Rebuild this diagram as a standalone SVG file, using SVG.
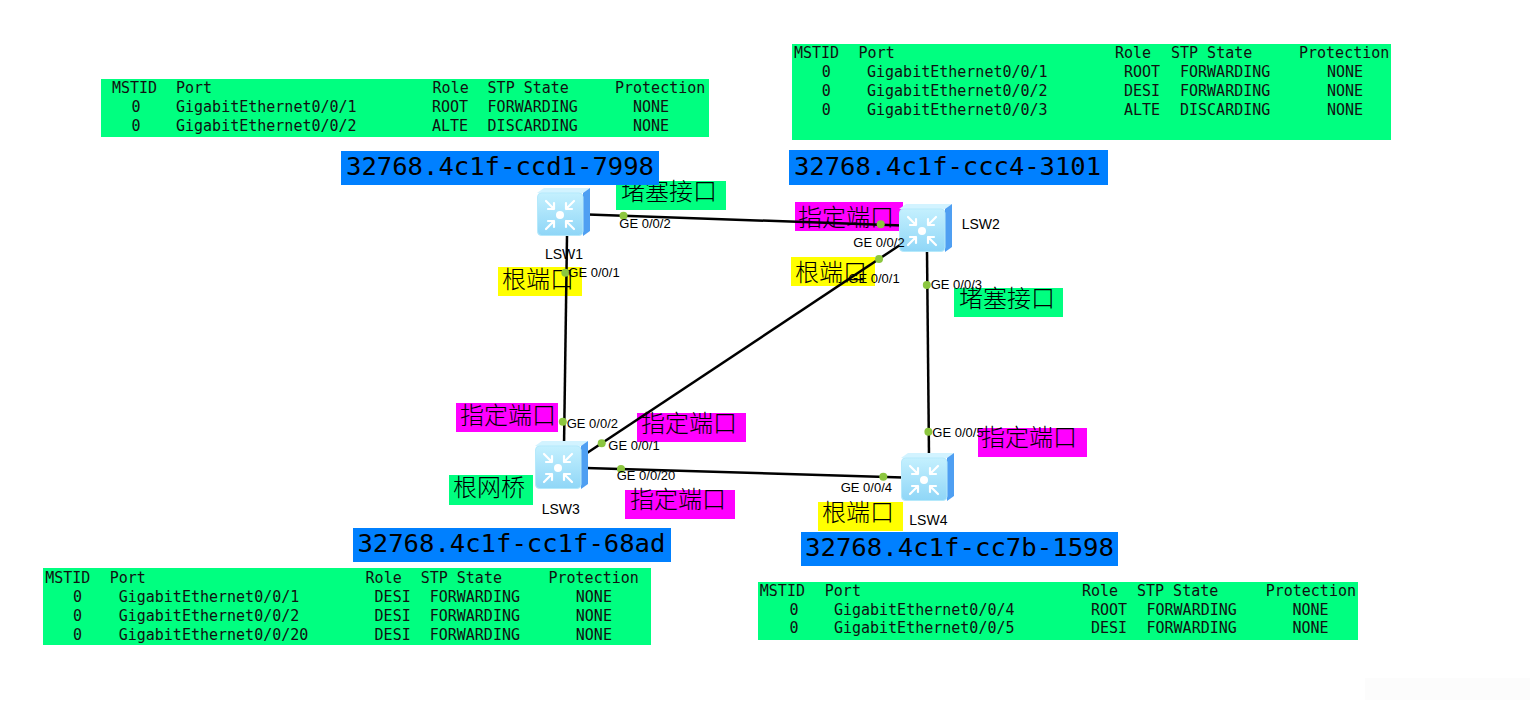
<svg xmlns="http://www.w3.org/2000/svg" xmlns:xlink="http://www.w3.org/1999/xlink" width="1540" height="707" viewBox="0 0 1540 707">
<style>
.tbl{fill:#00ff80}
.bid{fill:#0080ff}
.mono{font-family:"DejaVu Sans Mono","Liberation Mono",monospace;font-size:15px;fill:#111}
.bidt{font-family:"DejaVu Sans Mono","Liberation Mono",monospace;font-size:25.5px;fill:#000}
.ge{font-family:"Liberation Sans",Arial,sans-serif;font-size:13px;fill:#000}
.nm{font-family:"Liberation Sans",Arial,sans-serif;font-size:14px;fill:#000}
.cn{font-family:"Noto Sans CJK SC","Noto Sans CJK JP",sans-serif;font-size:24px;fill:#000;font-weight:300}
.blk{fill:#00ff80}.mag{fill:#ff00ff}.yel{fill:#ffff00}
.link{stroke:#000;stroke-width:2.5;fill:none}
.dot{fill:#8cc63f}
</style>
<defs>
<linearGradient id="fg" x1="0" y1="0" x2="0" y2="1">
<stop offset="0" stop-color="#c4f0fe"/>
<stop offset="1" stop-color="#8fd6f7"/>
</linearGradient>
<symbol id="sw" viewBox="0 0 53 48" width="53" height="48">
<polygon points="0,5 7,0 53,0 46,5" fill="#d2f3ff"/>
<polygon points="46,5 53,0 53,43 46,48" fill="#4f9ff2"/>
<rect x="0.5" y="5" width="45.5" height="42.5" rx="4" fill="url(#fg)" stroke="#b5e9fb" stroke-width="1"/>
<g stroke="#ffffff" stroke-width="2.2" fill="none" stroke-linecap="round">
<path d="M9,13 L17,21 M17,21 L11,21 M17,21 L17,15"/>
<path d="M37,13 L29,21 M29,21 L35,21 M29,21 L29,15"/>
<path d="M9,41 L17,33 M17,33 L11,33 M17,33 L17,39"/>
<path d="M37,41 L29,33 M29,33 L35,33 M29,33 L29,39"/>
</g>
<circle cx="23" cy="27" r="4" fill="#ffffff"/>
</symbol>
</defs>
<rect width="1540" height="707" fill="#ffffff"/>
<rect x="1365" y="678" width="165" height="22" fill="#fcfcfc"/>

<g id="port-labels">
<rect class="blk" x="616" y="181" width="110" height="29"/>
<text class="cn" x="621" y="200">堵塞接口</text>
<rect class="yel" x="498" y="267" width="84" height="29"/>
<text class="cn" x="502" y="288">根端口</text>
<rect class="mag" x="795" y="202" width="108" height="29"/>
<text class="cn" x="798" y="226">指定端口</text>
<rect class="yel" x="791" y="257" width="84" height="29"/>
<text class="cn" x="795" y="281">根端口</text>
<rect class="blk" x="954" y="288" width="109" height="29"/>
<text class="cn" x="959" y="307">堵塞接口</text>
<rect class="mag" x="456" y="403" width="102" height="29"/>
<text class="cn" x="460" y="424">指定端口</text>
<rect class="mag" x="637" y="413" width="109" height="29"/>
<text class="cn" x="641" y="432">指定端口</text>
<rect class="blk" x="449" y="475" width="84" height="30"/>
<text class="cn" x="453" y="496">根网桥</text>
<rect class="mag" x="625" y="490" width="110" height="29"/>
<text class="cn" x="630" y="508">指定端口</text>
<rect class="mag" x="978" y="428" width="109" height="29"/>
<text class="cn" x="981" y="446">指定端口</text>
<rect class="yel" x="818" y="502" width="85" height="29"/>
<text class="cn" x="822" y="521">根端口</text>
</g>

<g id="connectors">
<line class="link" x1="588" y1="214.5" x2="902" y2="225.5"/>
<line class="link" x1="567" y1="236" x2="564" y2="446"/>
<line class="link" x1="900" y1="245" x2="587" y2="453"/>
<line class="link" x1="927" y1="251" x2="929" y2="456"/>
<line class="link" x1="586" y1="468" x2="903" y2="477.5"/>
<circle class="dot" cx="623.5" cy="215.7" r="4"/>
<circle class="dot" cx="880.7" cy="224.3" r="4"/>
<circle class="dot" cx="565.3" cy="272.7" r="4"/>
<circle class="dot" cx="879" cy="259" r="4"/>
<circle class="dot" cx="926.8" cy="285" r="4"/>
<circle class="dot" cx="562.8" cy="421.7" r="4"/>
<circle class="dot" cx="601.7" cy="443.3" r="4"/>
<circle class="dot" cx="621" cy="469" r="4"/>
<circle class="dot" cx="928.4" cy="431.7" r="4"/>
<circle class="dot" cx="883.3" cy="476.7" r="4"/>
</g>

<g id="LSW1">
<use xlink:href="#sw" href="#sw" x="537" y="188"/>
<text class="nm" x="545" y="258.5">LSW1</text>
</g>
<g id="LSW2">
<use xlink:href="#sw" href="#sw" x="899" y="204"/>
<text class="nm" x="961.7" y="229.3">LSW2</text>
</g>
<g id="LSW3">
<use xlink:href="#sw" href="#sw" x="535" y="441"/>
<text class="nm" x="541.7" y="514.3">LSW3</text>
</g>
<g id="LSW4">
<use xlink:href="#sw" href="#sw" x="901" y="453"/>
<text class="nm" x="909.3" y="525">LSW4</text>
</g>

<g id="port-names">
<text class="ge" x="619.3" y="228.3">GE 0/0/2</text>
<text class="ge" x="568.3" y="276.7">GE 0/0/1</text>
<text class="ge" x="853.3" y="246.7">GE 0/0/2</text>
<text class="ge" x="848.3" y="282.7">GE 0/0/1</text>
<text class="ge" x="930.7" y="289.3">GE 0/0/3</text>
<text class="ge" x="566.7" y="427.7">GE 0/0/2</text>
<text class="ge" x="608.3" y="450">GE 0/0/1</text>
<text class="ge" x="616.7" y="480">GE 0/0/20</text>
<text class="ge" x="932.3" y="436.7">GE 0/0/5</text>
<text class="ge" x="840.7" y="491.7">GE 0/0/4</text>
</g>

<g id="bridge-ids">
<rect class="bid" x="341" y="151" width="318" height="34"/>
<text class="bidt" x="346" y="175" textLength="308" lengthAdjust="spacingAndGlyphs">32768.4c1f-ccd1-7998</text>
<rect class="bid" x="789" y="150" width="319" height="35"/>
<text class="bidt" x="794" y="175" textLength="307" lengthAdjust="spacingAndGlyphs">32768.4c1f-ccc4-3101</text>
<rect class="bid" x="353" y="528" width="318" height="34"/>
<text class="bidt" x="357.4" y="552" textLength="308" lengthAdjust="spacingAndGlyphs">32768.4c1f-cc1f-68ad</text>
<rect class="bid" x="801" y="532" width="317" height="34"/>
<text class="bidt" x="805" y="556" textLength="309" lengthAdjust="spacingAndGlyphs">32768.4c1f-cc7b-1598</text>
</g>

<g id="table-LSW1">
<rect class="tbl" x="101" y="79" width="608" height="58"/>
<g class="mono">
<text x="112" y="93">MSTID</text><text x="176" y="93">Port</text><text x="432.6" y="93">Role</text><text x="487.6" y="93">STP State</text><text x="615" y="93">Protection</text>
<text x="131.4" y="112">0</text><text x="176" y="112">GigabitEthernet0/0/1</text><text x="432" y="112">ROOT</text><text x="487.6" y="112">FORWARDING</text><text x="633" y="112">NONE</text>
<text x="131.4" y="131">0</text><text x="176" y="131">GigabitEthernet0/0/2</text><text x="432" y="131">ALTE</text><text x="487.6" y="131">DISCARDING</text><text x="633" y="131">NONE</text>
</g>
</g>

<g id="table-LSW2">
<rect class="tbl" x="792" y="44" width="599" height="96"/>
<g class="mono">
<text x="794" y="58">MSTID</text><text x="858.6" y="58">Port</text><text x="1115" y="58">Role</text><text x="1171" y="58">STP State</text><text x="1299" y="58">Protection</text>
<text x="821.7" y="77">0</text><text x="867" y="77">GigabitEthernet0/0/1</text><text x="1124" y="77">ROOT</text><text x="1180" y="77">FORWARDING</text><text x="1327" y="77">NONE</text>
<text x="821.7" y="96">0</text><text x="867" y="96">GigabitEthernet0/0/2</text><text x="1124" y="96">DESI</text><text x="1180" y="96">FORWARDING</text><text x="1327" y="96">NONE</text>
<text x="821.7" y="115">0</text><text x="867" y="115">GigabitEthernet0/0/3</text><text x="1124" y="115">ALTE</text><text x="1180" y="115">DISCARDING</text><text x="1327" y="115">NONE</text>
</g>
</g>

<g id="table-LSW3">
<rect class="tbl" x="43" y="568" width="608" height="77"/>
<g class="mono">
<text x="45.2" y="582.5">MSTID</text><text x="109.7" y="582.5">Port</text><text x="365.6" y="582.5">Role</text><text x="420.7" y="582.5">STP State</text><text x="548.5" y="582.5">Protection</text>
<text x="73" y="601.5">0</text><text x="118.7" y="601.5">GigabitEthernet0/0/1</text><text x="374.6" y="601.5">DESI</text><text x="429.7" y="601.5">FORWARDING</text><text x="575.8" y="601.5">NONE</text>
<text x="73" y="620.5">0</text><text x="118.7" y="620.5">GigabitEthernet0/0/2</text><text x="374.6" y="620.5">DESI</text><text x="429.7" y="620.5">FORWARDING</text><text x="575.8" y="620.5">NONE</text>
<text x="73" y="639.5">0</text><text x="118.7" y="639.5">GigabitEthernet0/0/20</text><text x="374.6" y="639.5">DESI</text><text x="429.7" y="639.5">FORWARDING</text><text x="575.8" y="639.5">NONE</text>
</g>
</g>

<g id="table-LSW4">
<rect class="tbl" x="758" y="582" width="600" height="58"/>
<g class="mono">
<text x="759.8" y="596">MSTID</text><text x="824.8" y="596">Port</text><text x="1081.9" y="596">Role</text><text x="1137" y="596">STP State</text><text x="1265.7" y="596">Protection</text>
<text x="789.4" y="614.5">0</text><text x="833.9" y="614.5">GigabitEthernet0/0/4</text><text x="1091" y="614.5">ROOT</text><text x="1146.5" y="614.5">FORWARDING</text><text x="1292.5" y="614.5">NONE</text>
<text x="789.4" y="633">0</text><text x="833.9" y="633">GigabitEthernet0/0/5</text><text x="1091" y="633">DESI</text><text x="1146.5" y="633">FORWARDING</text><text x="1292.5" y="633">NONE</text>
</g>
</g>
</svg>
